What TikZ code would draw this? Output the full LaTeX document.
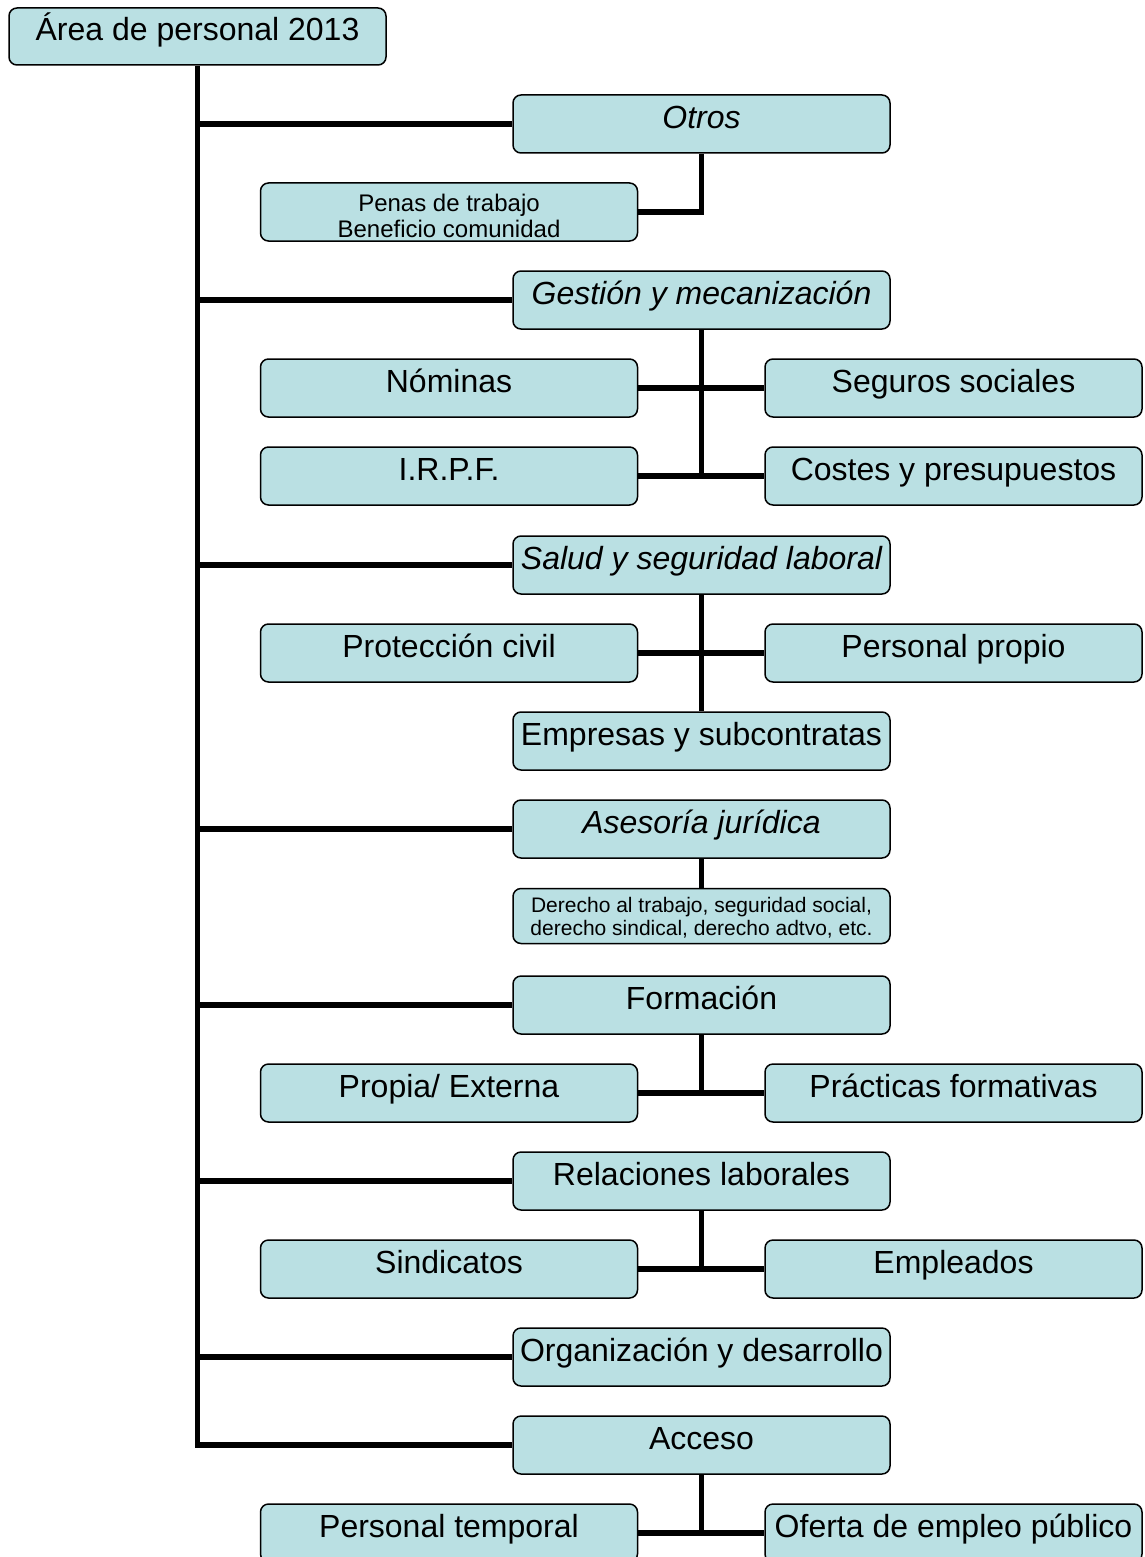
\documentclass[tikz,border=0pt]{standalone}
\usepackage{fontspec}
\setmainfont{Liberation Sans}
\usetikzlibrary{backgrounds}
\definecolor{boxfill}{RGB}{186,224,227}
\tikzset{
  boxbase/.style={draw=black, line width=1.5pt, fill=boxfill, rounded corners=8pt,
    minimum width=377pt, minimum height=58pt, inner sep=0pt, align=center},
  box/.style={boxbase, font=\fontsize{32}{36}\selectfont, text height=20pt, text depth=11pt},
  ibox/.style={box, font=\fontsize{32}{36}\itshape\selectfont},
  smallbox/.style={boxbase, font=\fontsize{24}{26.5}\selectfont},
  tinybox/.style={boxbase, minimum height=55pt, font=\fontsize{21}{22.5}\selectfont},
  conn/.style={line width=5.5pt, line join=miter}
}
\begin{document}
\begin{tikzpicture}[x=1pt,y=-1pt]
\useasboundingbox (0,0) rectangle (1144,1557);
\clip (0,0) rectangle (1144,1557);
\node[box, minimum height=57pt] (top) at (197.5,36.5) {Área de personal 2013};
\node[ibox] (otros) at (701.5,124) {Otros};
\node[smallbox] (penas) at (449,212) {\rule{0pt}{25pt}Penas de trabajo\\Beneficio comunidad};
\node[ibox] (gestion) at (701.5,300) {Gestión y mecanización};
\node[box] (nominas) at (449,388) {Nóminas};
\node[box] (seguros) at (953.5,388) {Seguros sociales};
\node[box] (irpf) at (449,476) {I.R.P.F.};
\node[box] (costes) at (953.5,476) {Costes y presupuestos};
\node[ibox] (salud) at (701.5,565) {Salud y seguridad laboral};
\node[box] (proteccion) at (449,653) {Protección civil};
\node[box] (propio) at (953.5,653) {Personal propio};
\node[box] (empresas) at (701.5,741) {Empresas y subcontratas};
\node[ibox] (asesoria) at (701.5,829) {Asesoría jurídica};
\node[tinybox] (derecho) at (701.5,916) {\rule{0pt}{19pt}Derecho al trabajo, seguridad social,\\derecho sindical, derecho adtvo, etc.};
\node[box] (formacion) at (701.5,1005) {Formación};
\node[box] (propia) at (449,1093) {Propia/ Externa};
\node[box] (practicas) at (953.5,1093) {Prácticas formativas};
\node[box] (relaciones) at (701.5,1181) {Relaciones laborales};
\node[box] (sindicatos) at (449,1269) {Sindicatos};
\node[box] (empleados) at (953.5,1269) {Empleados};
\node[box] (organizacion) at (701.5,1357) {Organización y desarrollo};
\node[box] (acceso) at (701.5,1445) {Acceso};
\node[box] (temporal) at (449,1533) {Personal temporal};
\node[box] (oferta) at (953.5,1533) {Oferta de empleo público};
\begin{scope}[on background layer]
\draw[conn] (top.south) |- (acceso.west);
\foreach \n in {otros,gestion,salud,asesoria,formacion,relaciones,organizacion}
  \draw[conn] (top.south |- \n.west) -- (\n.west);
\draw[conn] (otros.south) |- (penas.east);
\draw[conn] (gestion.south) -- (gestion.south |- irpf.east);
\draw[conn] (nominas.east) -- (seguros.west);
\draw[conn] (irpf.east) -- (costes.west);
\draw[conn] (salud.south) -- (empresas.north);
\draw[conn] (proteccion.east) -- (propio.west);
\draw[conn] (asesoria.south) -- (derecho.north);
\draw[conn] (formacion.south) -- (formacion.south |- propia.east);
\draw[conn] (propia.east) -- (practicas.west);
\draw[conn] (relaciones.south) -- (relaciones.south |- sindicatos.east);
\draw[conn] (sindicatos.east) -- (empleados.west);
\draw[conn] (acceso.south) -- (acceso.south |- temporal.east);
\draw[conn] (temporal.east) -- (oferta.west);
\end{scope}
\end{tikzpicture}
\end{document}
